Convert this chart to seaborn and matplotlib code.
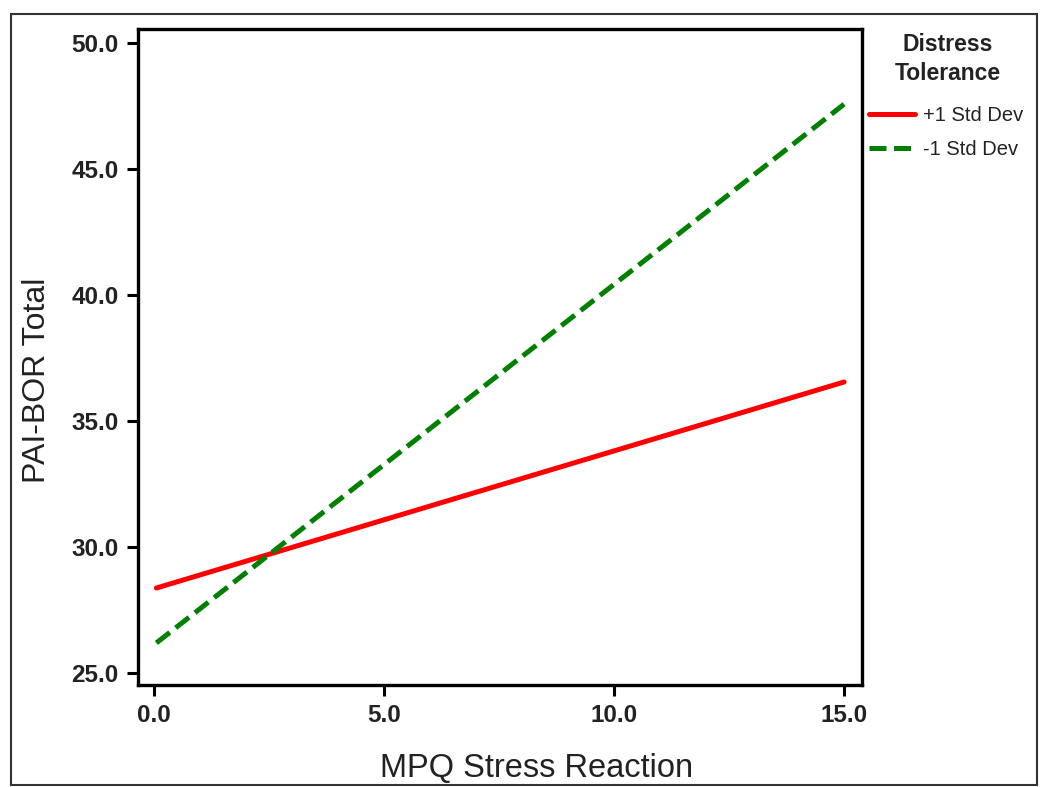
import pandas as pd
import matplotlib.pyplot as plt
import matplotlib.patches as patches
import seaborn as sns

# simple slopes: PAI-BOR Total vs MPQ Stress Reaction at +/-1 SD distress tolerance
x_vals = [0.05, 15.0]
high_dt = [28.37, 36.55]   # +1 Std Dev
low_dt = [26.19, 47.58]    # -1 Std Dev
groups = ['+1 Std Dev', '-1 Std Dev']
x_ticks = [0.0, 5.0, 10.0, 15.0]
y_ticks = [25.0, 30.0, 35.0, 40.0, 45.0, 50.0]

df = pd.DataFrame({
    'x': x_vals * 2,
    'y': high_dt + low_dt,
    'Group': [groups[0]] * 2 + [groups[1]] * 2
})

sns.set_style('white')
plt.rcParams['font.family'] = ['Liberation Sans', 'DejaVu Sans']

fig = plt.figure(figsize=(10.5, 7.87), dpi=100)
ax = fig.add_axes([0.1314, 0.1296, 0.821 - 0.1314, 0.963 - 0.1296])

sns.lineplot(data=df, x='x', y='y', hue='Group', style='Group',
             palette={groups[0]: '#ff0000', groups[1]: '#008000'},
             dashes={groups[0]: '', groups[1]: (3.4, 1.5)},
             linewidth=3.6, legend=False, ax=ax)

ax.set_xlim(-0.35, 15.39)
ax.set_ylim(24.52, 50.56)
ax.set_xticks(x_ticks)
ax.set_yticks(y_ticks)
ax.set_xticklabels([f'{v:.1f}' for v in x_ticks])
ax.set_yticklabels([f'{v:.1f}' for v in y_ticks])

for lab in ax.get_xticklabels() + ax.get_yticklabels():
    lab.set_fontweight('bold')
    lab.set_fontsize(17.5)
    lab.set_color('#222222')

ax.tick_params(axis='both', direction='out', length=8, width=2.2, color='black',
               bottom=True, left=True, pad=6)
for s in ax.spines.values():
    s.set_visible(True)
    s.set_color('black')
    s.set_linewidth(2.4)

ax.set_xlabel('MPQ Stress Reaction', fontsize=23.5, color='#222222')
ax.set_ylabel('PAI-BOR Total', fontsize=23, color='#222222', labelpad=14)
ax.xaxis.set_label_coords(0.551, -0.104)
ax.yaxis.label.set_y(0.465)

# legend title drawn as text so its spacing matches the original
fig.text(948 / 1050, 1 - 59 / 787, 'Distress\nTolerance', ha='center', va='center',
         fontsize=16.5, fontweight='bold', color='#222222', linespacing=1.35)

lines = ax.get_lines()
leg = fig.legend(lines[:2], groups, loc='upper left', bbox_to_anchor=(0.8276, 0.865),
                 frameon=False, fontsize=14.5,
                 handlelength=2.3, handletextpad=0.4, labelspacing=0.72,
                 borderpad=0, borderaxespad=0)
for t in leg.get_texts():
    t.set_color('#222222')

# outer frame around the whole graphic
fig.patches.append(patches.Rectangle((11 / 1050, 2 / 787), 1026 / 1050, 771 / 787,
                                     transform=fig.transFigure, fill=False,
                                     edgecolor='#333333', linewidth=1.5))

plt.savefig('out.png', dpi=100)
